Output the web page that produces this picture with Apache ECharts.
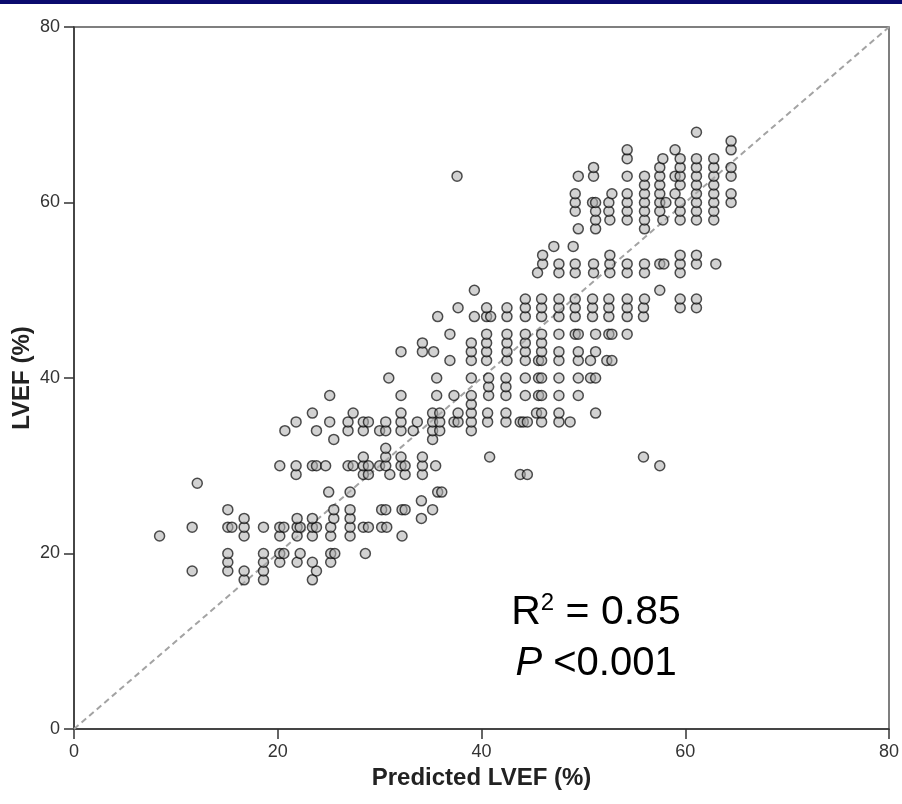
<!DOCTYPE html>
<html>
<head>
<meta charset="utf-8">
<script src="https://cdn.jsdelivr.net/npm/echarts@6/dist/echarts.min.js"></script>
<style>
  html, body { margin: 0; padding: 0; background: #fff; }
  #chart { width: 902px; height: 804px; }
</style>
</head>
<body>
<div id="chart"></div>
<script>
// axis ticks
const xTicks = [0, 20, 40, 60, 80]
const yTicks = [0, 20, 40, 60, 80]
// identity reference line (predicted == measured)
const refLine = [0, 80]

const lvef17 = [16.7, 18.6, 23.4]
const lvef18 = [11.6, 15.1, 16.7, 18.6, 23.8]
const lvef19 = [15.1, 18.6, 20.2, 21.9, 23.4, 25.2]
const lvef20 = [15.1, 18.6, 20.2, 20.6, 22.2, 25.2, 25.6, 28.6]
const lvef22 = [8.4, 16.7, 20.2, 21.9, 23.4, 25.2, 27.1, 32.2]
const lvef23 = [11.6, 15.1, 15.5, 16.7, 18.6, 20.2, 20.6, 21.9, 22.2, 23.4, 23.8, 25.2, 27.1, 28.4, 28.9, 30.2, 30.7]
const lvef24 = [16.7, 21.9, 23.4, 25.5, 27.1, 34.1]
const lvef25 = [15.1, 25.5, 27.1, 30.2, 30.6, 32.2, 32.5, 35.2]
const lvef26 = [34.1]
const lvef27 = [25.0, 27.1, 35.7, 36.1]
const lvef28 = [12.1]
const lvef29 = [21.8, 28.4, 28.9, 31.0, 32.5, 34.2, 43.8, 44.5]
const lvef30 = [20.2, 21.8, 23.4, 23.8, 24.7, 26.9, 27.4, 28.4, 28.9, 30.0, 30.6, 32.1, 32.5, 34.2, 35.5, 57.5]
const lvef31 = [28.4, 30.6, 32.1, 34.2, 40.8, 55.9]
const lvef32 = [30.6]
const lvef33 = [25.5, 35.2]
const lvef34 = [20.7, 23.8, 26.9, 28.4, 30.0, 30.6, 32.1, 33.3, 35.2, 35.9, 39.0]
const lvef35 = [21.8, 25.1, 26.9, 28.4, 28.9, 30.6, 32.1, 33.7, 35.2, 35.9, 37.3, 37.7, 39.0, 40.6, 42.4, 43.8, 44.1, 44.5, 45.9, 47.6, 48.7]
const lvef36 = [23.4, 27.4, 32.1, 35.2, 35.9, 37.7, 39.0, 40.6, 42.4, 45.4, 45.9, 47.6, 51.2]
const lvef37 = [39.0]
const lvef38 = [25.1, 32.1, 35.6, 37.3, 39.0, 40.7, 42.4, 44.3, 45.6, 45.9, 47.6, 49.5]
const lvef39 = [40.7, 42.4]
const lvef40 = [30.9, 35.6, 39.0, 40.7, 42.4, 44.3, 45.6, 45.9, 47.6, 49.5, 50.7, 51.2]
const lvef42 = [36.9, 39.0, 40.5, 42.5, 44.3, 45.6, 45.9, 47.6, 49.5, 50.7, 52.3, 52.8]
const lvef43 = [32.1, 34.2, 35.3, 39.0, 40.5, 42.5, 44.3, 45.9, 47.6, 49.5, 51.2]
const lvef44 = [34.2, 39.0, 40.5, 42.5, 44.3, 45.9]
const lvef45 = [36.9, 40.5, 42.5, 44.3, 45.9, 47.6, 49.2, 49.5, 51.2, 52.5, 52.8, 54.3]
const lvef47 = [35.7, 39.3, 40.5, 40.9, 42.5, 44.3, 45.9, 47.6, 49.2, 50.9, 52.5, 54.3, 55.9]
const lvef48 = [37.7, 40.5, 42.5, 44.3, 45.9, 47.6, 49.2, 50.9, 52.5, 54.3, 55.9, 59.5, 61.1]
const lvef49 = [44.3, 45.9, 47.6, 49.2, 50.9, 52.5, 54.3, 56.0, 59.5, 61.1]
const lvef50 = [39.3, 57.5]
const lvef52 = [45.5, 47.6, 49.2, 51.0, 52.6, 54.3, 56.0, 59.5]
const lvef53 = [46.0, 47.6, 49.2, 51.0, 52.6, 54.3, 56.0, 57.5, 57.9, 59.5, 61.1, 63.0]
const lvef54 = [46.0, 52.6, 59.5, 61.1]
const lvef55 = [47.1, 49.0]
const lvef57 = [49.5, 51.2, 56.0]
const lvef58 = [51.2, 52.6, 54.3, 56.0, 57.8, 59.5, 61.1, 62.8]
const lvef59 = [49.2, 51.2, 52.5, 54.3, 56.0, 57.5, 59.5, 61.1, 62.8]
const lvef60 = [49.2, 50.9, 51.2, 52.5, 54.3, 56.0, 57.5, 58.1, 59.5, 61.1, 62.8, 64.5]
const lvef61 = [49.2, 52.8, 54.3, 56.0, 57.5, 59.0, 61.1, 62.8, 64.5]
const lvef62 = [56.0, 57.5, 59.5, 61.1, 62.8]
const lvef63 = [37.6, 49.5, 51.0, 54.3, 56.0, 57.5, 59.0, 59.5, 61.1, 62.8, 64.5]
const lvef64 = [51.0, 57.5, 59.5, 61.1, 62.8, 64.5]
const lvef65 = [54.3, 57.8, 59.5, 61.1, 62.8]
const lvef66 = [54.3, 59.0, 64.5]
const lvef67 = [64.5]
const lvef68 = [61.1]

const measuredLevels = [17, 18, 19, 20, 22, 23, 24, 25, 26, 27, 28, 29, 30, 31, 32, 33, 34, 35, 36, 37,
  38, 39, 40, 42, 43, 44, 45, 47, 48, 49, 50, 52, 53, 54, 55, 57, 58, 59, 60, 61, 62, 63, 64, 65, 66, 67, 68]
const predictedRows = [lvef17, lvef18, lvef19, lvef20, lvef22, lvef23, lvef24, lvef25, lvef26, lvef27, lvef28,
  lvef29, lvef30, lvef31, lvef32, lvef33, lvef34, lvef35, lvef36, lvef37, lvef38, lvef39, lvef40, lvef42,
  lvef43, lvef44, lvef45, lvef47, lvef48, lvef49, lvef50, lvef52, lvef53, lvef54, lvef55, lvef57, lvef58,
  lvef59, lvef60, lvef61, lvef62, lvef63, lvef64, lvef65, lvef66, lvef67, lvef68]

// flatten rows into [predicted, measured] pairs
let points = []
measuredLevels.forEach(function (lvef, i) {
  predictedRows[i].forEach(function (pred) {
    points.push([pred, lvef])
  })
})

const FONT = '"Liberation Sans", Arial, sans-serif'
const AXIS_COLOR = '#333'

function axisOpts (name, gap, ticks) {
  return {
    type: 'value',
    min: ticks[0],
    max: ticks[ticks.length - 1],
    interval: ticks[1] - ticks[0],
    name: name,
    nameLocation: 'middle',
    nameGap: gap,
    nameMoveOverlap: false,
    nameTextStyle: { fontFamily: FONT, fontWeight: 'bold', fontSize: 24, color: '#222' },
    axisLine: { show: true, onZero: false, lineStyle: { color: AXIS_COLOR, width: 1.5 } },
    axisTick: { show: true, length: 10, lineStyle: { color: AXIS_COLOR, width: 1.5 } },
    axisLabel: { margin: 14, fontFamily: FONT, fontSize: 18, color: '#333' },
    splitLine: { show: false }
  }
}

let chart = echarts.init(document.getElementById('chart'), null, { renderer: 'canvas' })

chart.setOption({
  animation: false,
  backgroundColor: '#fff',
  grid: {
    left: 74, right: 13, top: 27, bottom: 75,
    containLabel: false,
    outerBoundsMode: 'none',
    show: true, borderColor: '#555', borderWidth: 1.5
  },
  xAxis: axisOpts('Predicted LVEF (%)', 37, xTicks),
  yAxis: axisOpts('LVEF (%)', 40, yTicks),
  series: [
    {
      type: 'line',
      data: [[refLine[0], refLine[0]], [refLine[1], refLine[1]]],
      symbol: 'none',
      silent: true,
      z: 1,
      lineStyle: { color: '#a3a3a3', width: 2, type: [6, 4] }
    },
    {
      type: 'scatter',
      data: points,
      symbol: 'circle',
      symbolSize: 10,
      z: 2,
      itemStyle: { color: 'rgba(175,175,175,0.7)', borderColor: 'rgba(0,0,0,0.85)', borderWidth: 1.5 }
    }
  ],
  graphic: [
    // dark band along the top edge
    { type: 'rect', left: 0, top: 0, shape: { width: 902, height: 4 }, style: { fill: '#0a0a6e' } },
    {
      type: 'text', x: 596, y: 613,
      style: {
        text: '{r|R}{s|2}{r| = 0.85}',
        align: 'center', verticalAlign: 'middle',
        fill: '#000',
        rich: {
          r: { fontFamily: FONT, fontSize: 41, fill: '#000', lineHeight: 44 },
          s: { fontFamily: FONT, fontSize: 24, fill: '#000', verticalAlign: 'top', lineHeight: 44 }
        }
      }
    },
    {
      type: 'text', x: 596, y: 664,
      style: {
        text: '{i|P}{r| <0.001}',
        align: 'center', verticalAlign: 'middle',
        fill: '#000',
        rich: {
          i: { fontFamily: FONT, fontSize: 40, fontStyle: 'italic', fill: '#000' },
          r: { fontFamily: FONT, fontSize: 40, fill: '#000' }
        }
      }
    }
  ]
})
</script>
</body>
</html>
